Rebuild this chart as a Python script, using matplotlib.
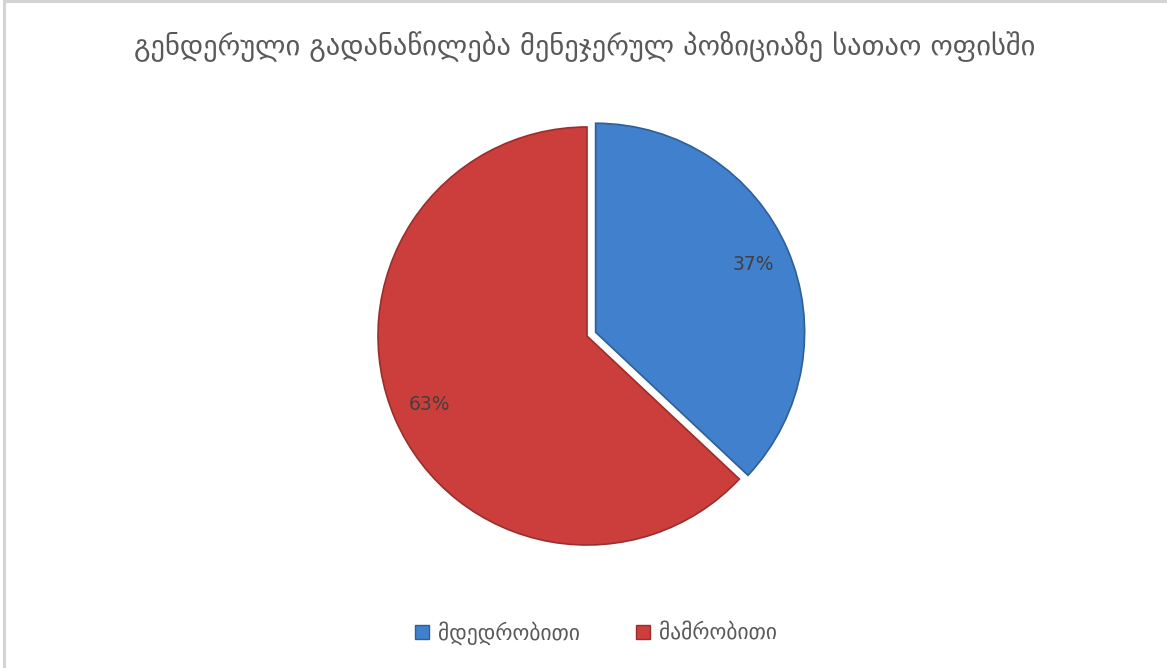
import numpy as np
import matplotlib
matplotlib.use("Agg")
import matplotlib.pyplot as plt
from matplotlib.patches import Patch
from matplotlib.lines import Line2D

title = "გენდერული გადანაწილება მენეჯერულ პოზიციაზე სათაო ოფისში"
labels = ["მდედრობითი", "მამრობითი"]
shares = [37, 63]
colors = ["#4080CC", "#CC3E3C"]
edges = ["#2F5F98", "#9A2E2C"]

W, H = 1167, 668
fig = plt.figure(figsize=(W / 100, H / 100), dpi=100)
fig.patch.set_facecolor("white")

# thin grey frame on top/left
fig.add_artist(Line2D([3.5 / W, 3.5 / W], [0, 1 - 1 / H], color="#D4D4D4", lw=2.2))
fig.add_artist(Line2D([3.5 / W, 1], [1 - 1 / H, 1 - 1 / H], color="#D4D4D4", lw=2.2))

R = 209
cx, cy = 587, H - 336
box = 500
ax = fig.add_axes([(cx - box / 2) / W, (cy - box / 2) / H, box / W, box / H])
lim = box / 2 / R
ax.axis("off")

wedges, texts, autotexts = ax.pie(
    shares, colors=colors, startangle=90, counterclock=False,
    explode=[0.045, 0], autopct="%d%%", pctdistance=0.82,
    wedgeprops=dict(linewidth=1.2), frame=False,
    textprops=dict(fontsize=13.5, color="#404040"))
for w, e in zip(wedges, edges):
    w.set_edgecolor(e)
ax.set_xlim(-lim, lim)
ax.set_ylim(-lim, lim)

fig.text(585 / W, 1 - 47 / H, title, ha="center", va="center",
         fontsize=20.5, color="#595959")

handles = [Patch(facecolor=c, edgecolor=e, label=l) for c, e, l in zip(colors, edges, labels)]
fig.legend(handles=handles, loc="center", bbox_to_anchor=(596 / W, 1 - 633 / H),
           ncol=2, frameon=False, fontsize=15.5, handlelength=0.65, handleheight=0.65,
           handletextpad=0.4, columnspacing=2.6, labelcolor="#595959")

fig.savefig("out.png", dpi=100)
